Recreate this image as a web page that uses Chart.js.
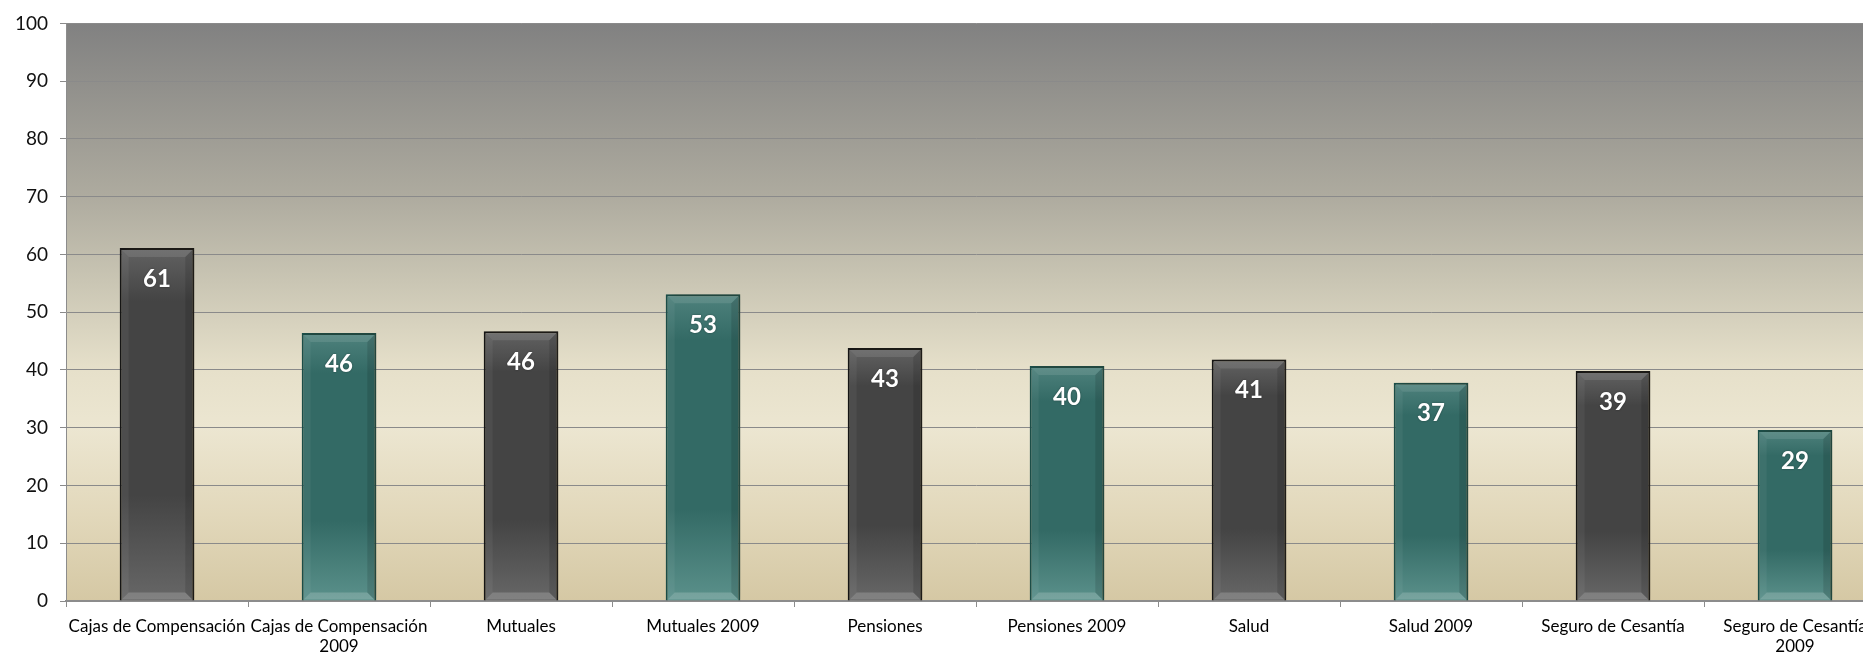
<!DOCTYPE html>
<html>
<head>
<meta charset="utf-8">
<script src="https://cdn.jsdelivr.net/npm/chart.js@4.4.1/dist/chart.umd.min.js"></script>
<style>
    html, body { margin: 0; padding: 0; background: #fff; overflow: hidden; }
    #wrap { width: 1890px; height: 655px; }
</style>
</head>
<body>
<div id="wrap"><canvas id="chart" width="1890" height="655"></canvas></div>
<script>
// Categorías del eje X (las de 2009 van en dos líneas donde no caben)
const categories = [
    'Cajas de Compensación',
    ['Cajas de Compensación', '2009'],
    'Mutuales',
    'Mutuales 2009',
    'Pensiones',
    'Pensiones 2009',
    'Salud',
    'Salud 2009',
    'Seguro de Cesantía',
    ['Seguro de Cesantía', '2009']
];

const values = [61.1, 46.4, 46.7, 53.1, 43.8, 40.7, 41.8, 37.8, 39.8, 29.6];

// Eje Y
const yTicks = [0, 10, 20, 30, 40, 50, 60, 70, 80, 90, 100];

const DARK = { top: '#626262', mid: '#444444', bottom: '#676767', border: '#141414' };
const TEAL = { top: '#4f827d', mid: '#336a65', bottom: '#5b918b', border: '#1a4d48' };

function styleFor(i) {
    return i % 2 === 0 ? DARK : TEAL;
}

function barGradient(context) {
    const chart = context.chart;
    const c = styleFor(context.dataIndex);
    if (!chart.chartArea) return c.mid;
    const yScale = chart.scales.y;
    const top = yScale.getPixelForValue(context.raw);
    const base = yScale.getPixelForValue(0);
    const g = chart.ctx.createLinearGradient(0, top, 0, base);
    g.addColorStop(0, c.top);
    g.addColorStop(0.15, c.mid);
    g.addColorStop(0.7, c.mid);
    g.addColorStop(1, c.bottom);
    return g;
}

// Fondo degradado del área del gráfico
const plotBackground = {
    id: 'plotBackground',
    beforeDraw(chart) {
        const { ctx, chartArea: a } = chart;
        const g = ctx.createLinearGradient(0, a.top, 0, a.bottom);
        g.addColorStop(0, '#818181');
        g.addColorStop(0.3, '#aeab9f');
        g.addColorStop(0.45, '#cac6b4');
        g.addColorStop(0.6, '#e6e0ca');
        g.addColorStop(0.7, '#ece6d1');
        g.addColorStop(0.85, '#e2d8bb');
        g.addColorStop(1, '#d5c8a4');
        ctx.save();
        ctx.fillStyle = g;
        ctx.fillRect(a.left, a.top, a.right - a.left, a.bottom - a.top);
        ctx.restore();
    }
};

// Sombra suave de las barras
const barShadow = {
    id: 'barShadow',
    beforeDatasetsDraw(chart) {
        const ctx = chart.ctx;
        ctx.save();
        ctx.shadowColor = 'rgba(60, 50, 30, 0.35)';
        ctx.shadowBlur = 8;
        ctx.shadowOffsetX = 5;
        ctx.shadowOffsetY = -2;
    },
    afterDatasetsDraw(chart) {
        chart.ctx.restore();
    }
};

// Biselado y etiquetas de valor
const bevelAndLabels = {
    id: 'bevelAndLabels',
    afterDatasetsDraw(chart) {
        const ctx = chart.ctx;
        const meta = chart.getDatasetMeta(0);
        const b = 7;
        meta.data.forEach((bar, i) => {
            const l = bar.x - bar.width / 2 + 2;
            const r = bar.x + bar.width / 2 - 2;
            const t = bar.y + 2;
            const btm = bar.base - 1;

            ctx.save();
            // arriba
            ctx.fillStyle = 'rgba(255,255,255,0.10)';
            ctx.beginPath();
            ctx.moveTo(l, t); ctx.lineTo(r, t); ctx.lineTo(r - b, t + b); ctx.lineTo(l + b, t + b);
            ctx.closePath(); ctx.fill();
            // izquierda
            ctx.fillStyle = 'rgba(255,255,255,0.05)';
            ctx.beginPath();
            ctx.moveTo(l, t); ctx.lineTo(l + b, t + b); ctx.lineTo(l + b, btm - b); ctx.lineTo(l, btm);
            ctx.closePath(); ctx.fill();
            // derecha
            ctx.fillStyle = 'rgba(0,0,0,0.12)';
            ctx.beginPath();
            ctx.moveTo(r, t); ctx.lineTo(r - b, t + b); ctx.lineTo(r - b, btm - b); ctx.lineTo(r, btm);
            ctx.closePath(); ctx.fill();
            // abajo
            ctx.fillStyle = 'rgba(255,255,255,0.18)';
            ctx.beginPath();
            ctx.moveTo(l, btm); ctx.lineTo(r, btm); ctx.lineTo(r - b, btm - b); ctx.lineTo(l + b, btm - b);
            ctx.closePath(); ctx.fill();

            // etiqueta
            ctx.font = 'bold 24px Lato, "Open Sans", sans-serif';
            ctx.fillStyle = '#ffffff';
            ctx.textAlign = 'center';
            ctx.textBaseline = 'middle';
            ctx.shadowColor = 'rgba(0,0,0,0.4)';
            ctx.shadowBlur = 2;
            ctx.fillText(Math.floor(values[i]).toString(), bar.x, bar.y + 31);
            ctx.restore();
        });
    }
};

new Chart(document.getElementById('chart').getContext('2d'), {
    type: 'bar',
    data: {
        labels: categories,
        datasets: [{
            data: values,
            backgroundColor: barGradient,
            borderColor: (ctx) => styleFor(ctx.dataIndex).border,
            borderWidth: 2,
            borderSkipped: 'bottom',
            barPercentage: 0.41,
            categoryPercentage: 1.0
        }]
    },
    options: {
        responsive: false,
        animation: false,
        layout: { padding: { top: 20, right: 4, bottom: 0, left: 0 } },
        plugins: {
            legend: { display: false },
            tooltip: { enabled: false }
        },
        scales: {
            x: {
                offset: true,
                afterFit: (scale) => { scale.height = 54; },
                grid: {
                    offset: true,
                    drawOnChartArea: false,
                    drawTicks: true,
                    tickLength: 6,
                    color: '#8c8c8c',
                    lineWidth: 1
                },
                border: { color: '#8c8c8c', width: 2 },
                ticks: {
                    autoSkip: false,
                    maxRotation: 0,
                    minRotation: 0,
                    padding: 9,
                    color: '#000000',
                    font: { family: 'Lato, "Open Sans", sans-serif', size: 17, lineHeight: 1.2 }
                }
            },
            y: {
                min: 0,
                max: 100,
                afterFit: (scale) => { scale.width = 66; },
                afterBuildTicks: (scale) => { scale.ticks = yTicks.map(v => ({ value: v })); },
                grid: {
                    color: '#8a8a8a',
                    lineWidth: 1,
                    drawTicks: true,
                    tickLength: 6
                },
                border: { color: '#8c8c8c', width: 1 },
                ticks: {
                    padding: 12,
                    color: '#111111',
                    font: { family: 'Lato, "Open Sans", sans-serif', size: 19 }
                }
            }
        }
    },
    plugins: [plotBackground, barShadow, bevelAndLabels]
});
</script>
</body>
</html>
